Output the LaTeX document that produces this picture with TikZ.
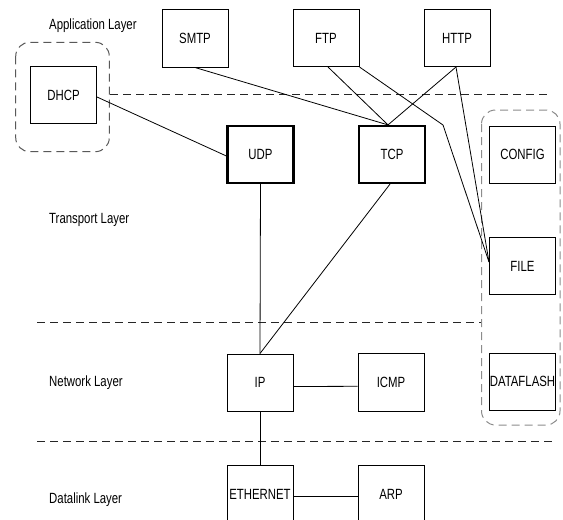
\documentclass[tikz,border=0pt]{standalone}
\usepackage{fontspec}
\setmainfont{Liberation Sans}[FakeStretch=0.77]
\begin{document}
\begin{tikzpicture}[x=1pt,y=-1pt,
 box/.style={draw, line width=1pt, minimum width=66pt, minimum height=57pt, inner sep=0pt, font=\fontsize{14.8}{16}\selectfont},
 thickbox/.style={box, line width=2.2pt},
 layer/.style={anchor=base west, inner sep=0pt, font=\fontsize{14.8}{16}\selectfont},
 sep/.style={draw=black!85, line width=1pt, dash pattern=on 8pt off 5pt},
 group/.style={draw=gray, line width=1pt, dash pattern=on 8pt off 5pt, rounded corners=14pt},
 link/.style={line width=0.8pt}]
\useasboundingbox (0,0) rectangle (563,520);
\clip (0,0) rectangle (563,520);

% separators and groups
\draw[sep] (110,94) -- (548,94);
\draw[sep] (37,322) -- (481,322);
\draw[sep] (37,441.3) -- (555,441.3);
\draw[group, draw=black!65] (15.7,42.3) rectangle (109.3,151.7);
\draw[group, draw=black!45] (481.5,110) rectangle (560,425);

% layer labels
\node[layer] (lapp) at (49,29.3) {Application Layer};
\node[layer] (ltrans) at (49,223.3) {Transport Layer};
\node[layer] (lnet) at (49,386) {Network Layer};
\node[layer] (ldl) at (49,503.3) {Datalink Layer};

% boxes
\node[box, minimum height=58pt] (smtp) at (195,38) {SMTP};
\node[box] (ftp) at (326,38) {FTP};
\node[box] (http) at (457,38) {HTTP};
\node[box] (dhcp) at (63.5,95) {DHCP};
\node[thickbox] (udp) at (260.5,154.5) {UDP};
\node[thickbox] (tcp) at (392,154.5) {TCP};
\node[box] (config) at (522.5,154.5) {CONFIG};
\node[box] (file) at (522.5,266) {FILE};
\node[box] (dataflash) at (522.5,381.5) {DATAFLASH};
\node[box] (ip) at (260,382.5) {IP};
\node[box, minimum height=58pt] (icmp) at (391,382.3) {ICMP};
\node[box] (eth) at (260,494) {ETHERNET};
\node[box] (arp) at (391,494) {ARP};

\coordinate (bend) at (443,125);

% connectors
\draw[link] (smtp.south) -- ([xshift=-4pt]tcp.north);
\draw[link] ([xshift=2pt]ftp.south) -- ([xshift=-4pt]tcp.north);
\draw[link] ([xshift=-1pt]http.south) -- ([xshift=-4pt]tcp.north);
\draw[link] (ftp.south east) -- (bend) -- ([yshift=4pt]file.west);
\draw[link] ([xshift=-1pt]http.south) -- ([yshift=4pt]file.west);
\draw[link] ([yshift=-2pt]dhcp.east) -- ([yshift=-1.5pt]udp.west);
\draw[link] (udp.south) -- (ip.north);
\draw[link] ([xshift=-2pt]tcp.south) -- (ip.north);
\draw[link] ([yshift=-4pt]ip.east) -- ([yshift=-4pt]icmp.west);
\draw[link] (ip.south) -- (eth.north);
\draw[link] ([yshift=-2pt]eth.east) -- ([yshift=-2pt]arp.west);
\end{tikzpicture}
\end{document}
